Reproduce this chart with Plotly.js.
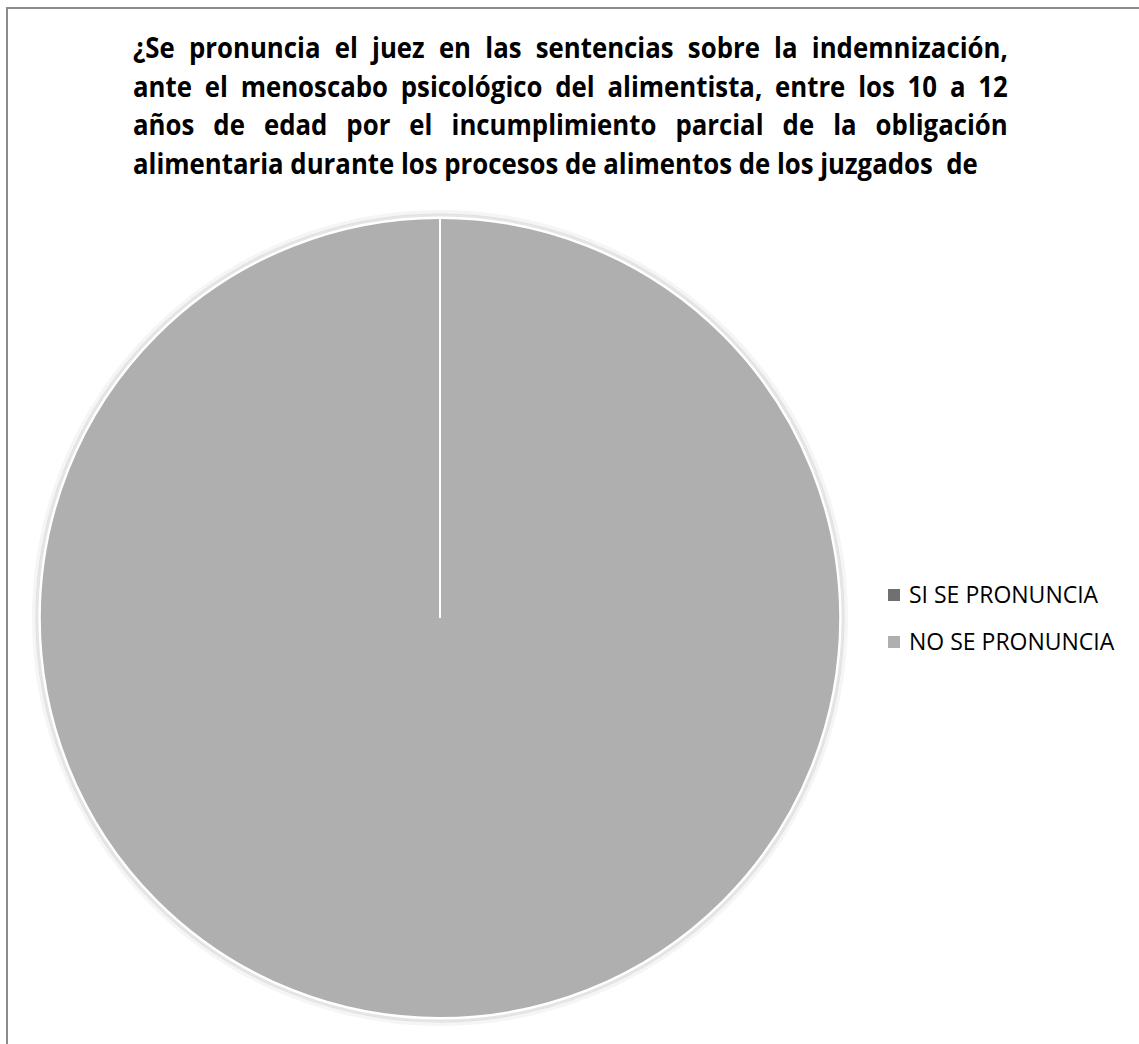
<!DOCTYPE html>
<html><head><meta charset="utf-8">
<script src="https://cdn.plot.ly/plotly-3.0.1.min.js"></script>
<style>html,body{margin:0;padding:0;background:#fff}#chart{width:1139px;height:1044px}</style>
</head><body><div id="chart"></div>
<script>
// ---- data ----
const categories = ['SI SE PRONUNCIA', 'NO SE PRONUNCIA'];
const values = [0, 100];
const sliceColors = ['#707070', '#afafaf'];
const titleLines = [
  '¿Se pronuncia el juez en las sentencias sobre la indemnización,',
  'ante el menoscabo psicológico del alimentista, entre los 10 a 12',
  'años de edad por el incumplimiento parcial de la obligación',
  'alimentaria durante los procesos de alimentos de los juzgados  de'
];

// ---- layout constants (pixels) ----
const W = 1139, H = 1044;
const px = x => x / W, py = y => 1 - y / H;
const PIE = {cx: 440, cy: 618, r: 400};
const TITLE_X = 131, TITLE_W = 875, TITLE_LAST_W = 845;
const TITLE_BASE = [59, 97.5, 136, 174.5];
const TITLE_FS = 28;
const LEG = {sx: 888, tx: 907, ys: [595, 642], sq: 12, fs: 23};

const data = [{
  type: 'pie',
  labels: categories,
  values: values,
  sort: false,
  direction: 'clockwise',
  rotation: 0,
  textinfo: 'none',
  hoverinfo: 'label+percent',
  showlegend: false,
  marker: {colors: sliceColors, line: {color: '#ffffff', width: 2}},
  domain: {x: [px(PIE.cx - PIE.r), px(PIE.cx + PIE.r)], y: [py(PIE.cy + PIE.r), py(PIE.cy - PIE.r)]}
}];

const shapes = [
  // chart border
  {type: 'rect', xref: 'paper', yref: 'paper', x0: px(7), x1: px(W + 10), y0: py(8), y1: py(H + 10),
   line: {color: '#8c8c8c', width: 2}, fillcolor: 'rgba(0,0,0,0)'},
  // soft shadow around pie
  {type: 'circle', xref: 'paper', yref: 'paper', layer: 'below',
   x0: px(PIE.cx - PIE.r - 3), x1: px(PIE.cx + PIE.r + 3), y0: py(PIE.cy + PIE.r + 3), y1: py(PIE.cy - PIE.r - 3),
   line: {color: 'rgba(0,0,0,0.10)', width: 3}},
  {type: 'circle', xref: 'paper', yref: 'paper', layer: 'below',
   x0: px(PIE.cx - PIE.r - 6), x1: px(PIE.cx + PIE.r + 6), y0: py(PIE.cy + PIE.r + 6), y1: py(PIE.cy - PIE.r - 6),
   line: {color: 'rgba(0,0,0,0.04)', width: 4}},
  // boundary of the zero slice (start angle)
  {type: 'line', xref: 'paper', yref: 'paper', x0: px(PIE.cx), x1: px(PIE.cx), y0: py(PIE.cy), y1: py(PIE.cy - PIE.r),
   line: {color: '#ffffff', width: 2}}
];

const annotations = [];
titleLines.forEach((t, i) => {
  annotations.push({
    text: t, xref: 'paper', yref: 'paper', x: px(TITLE_X), y: py(TITLE_BASE[i] + 0.293 * TITLE_FS + 1),
    xanchor: 'left', yanchor: 'bottom', align: 'left', showarrow: false, borderpad: 1,
    font: {family: 'Open Sans, sans-serif', size: TITLE_FS, color: '#000000', weight: 'bold'}
  });
});
categories.forEach((c, i) => {
  shapes.push({type: 'rect', xref: 'paper', yref: 'paper',
    x0: px(LEG.sx), x1: px(LEG.sx + LEG.sq), y0: py(LEG.ys[i] + LEG.sq / 2), y1: py(LEG.ys[i] - LEG.sq / 2),
    line: {width: 0}, fillcolor: sliceColors[i]});
  annotations.push({
    text: c, xref: 'paper', yref: 'paper', x: px(LEG.tx), y: py(LEG.ys[i] - 1),
    xanchor: 'left', yanchor: 'middle', align: 'left', showarrow: false,
    font: {family: 'Open Sans, sans-serif', size: LEG.fs, color: '#000000'}
  });
});

const layout = {
  width: W, height: H,
  margin: {l: 0, r: 0, t: 0, b: 0},
  paper_bgcolor: '#ffffff', plot_bgcolor: '#ffffff',
  showlegend: false,
  shapes: shapes,
  annotations: annotations
};

const gd = document.getElementById('chart');
Plotly.newPlot(gd, data, layout, {displayModeBar: false}).then(() => {
  const els = titleLines.map((_, i) => gd.querySelector('.annotation[data-index="' + i + '"] text.annotation-text'));
  if (els.some(e => !e)) return;
  const nat = els.map(e => e.getComputedTextLength());
  const s = TITLE_LAST_W / nat[nat.length - 1];
  els.forEach((e, i) => {
    if (i < els.length - 1) {
      const n = (titleLines[i].match(/ /g) || []).length;
      e.style.wordSpacing = ((TITLE_W / s - nat[i]) / n) + 'px';
    }
    const bb = e.getBBox();
    e.setAttribute('transform', 'translate(' + bb.x + ',0) scale(' + s + ',1) translate(' + (-bb.x) + ',0)');
  });
});
</script>
</body></html>
